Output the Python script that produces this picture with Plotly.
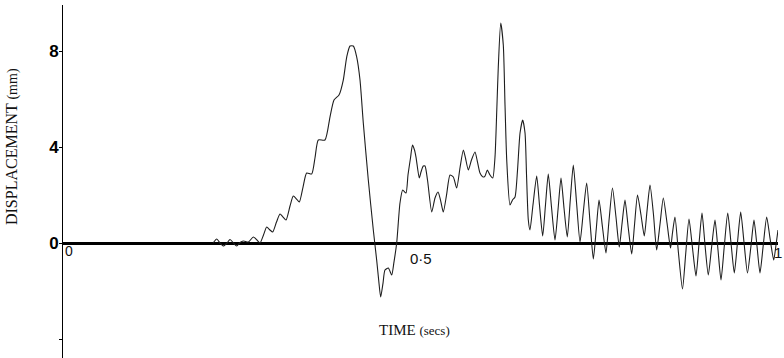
import plotly.graph_objects as go

# --- data (time in seconds, displacement in mm) ---
t_onset = [0.2098, 0.2150, 0.2196, 0.2242, 0.2294, 0.2336, 0.2385, 0.2429, 0.2476, 0.2522,
           0.2592, 0.2662, 0.2713, 0.2755]
d_onset = [0.0, 0.167, 0.0, -0.125, 0.0, 0.146, 0.0, -0.125, 0.021, 0.083,
           0.042, 0.25, 0.125, 0.0]

t_rise = [0.2804, 0.2849, 0.2895, 0.2933, 0.2986, 0.3035, 0.3077, 0.3119, 0.3175, 0.3221,
          0.3266, 0.3305, 0.3357, 0.3408, 0.3478, 0.3524, 0.3571, 0.3664, 0.3734, 0.3790,
          0.3860, 0.3920, 0.3968, 0.4014, 0.4060, 0.4108]
d_rise = [0.333, 0.667, 0.542, 0.458, 0.875, 1.208, 1.083, 0.958, 1.542, 1.958,
          1.833, 1.708, 2.333, 2.917, 2.875, 3.542, 4.292, 4.292, 5.25, 5.958,
          6.167, 6.792, 7.75, 8.208, 8.208, 7.75]

t_drop = [0.4154, 0.4200, 0.4270, 0.4340, 0.4387, 0.4415, 0.4443, 0.4476, 0.4503, 0.4550,
          0.4597, 0.4629, 0.4667, 0.4713, 0.4751, 0.4797, 0.4825, 0.4860, 0.4888, 0.4916,
          0.4937, 0.4983, 0.5007, 0.5039, 0.5063, 0.5098, 0.5157, 0.5203, 0.5245, 0.5280,
          0.5319, 0.5364, 0.5413, 0.5459, 0.5506, 0.5552, 0.5599, 0.5629, 0.5669, 0.5713,
          0.5762, 0.5797, 0.5832, 0.5874, 0.5902, 0.5934, 0.5972, 0.6010]
d_drop = [6.792, 5.0, 2.625, 0.542, -0.708, -1.542, -2.25, -1.667, -1.125, -1.042,
          -1.333, -0.792, 0.0, 1.667, 2.208, 2.083, 2.833, 3.542, 4.083, 3.875,
          3.583, 2.708, 2.958, 3.208, 3.208, 2.625, 1.292, 1.875, 2.125, 1.792,
          1.292, 2.0, 2.833, 2.75, 2.292, 3.125, 3.875, 3.542, 3.042, 3.458,
          3.792, 3.375, 2.917, 2.75, 2.792, 3.042, 2.833, 2.708]

t_spike = [0.6042, 0.6067, 0.6088, 0.6122, 0.6158, 0.6182, 0.6206, 0.6252, 0.6287, 0.6322,
           0.6357, 0.6392, 0.6429, 0.6462, 0.6483, 0.6508, 0.6531]
d_spike = [3.583, 5.542, 7.333, 9.167, 8.25, 5.75, 3.458, 1.583, 1.792, 1.917,
           3.042, 4.583, 5.125, 4.583, 2.833, 0.958, 0.542]

t_osc = [0.6573, 0.6625, 0.6664, 0.6709, 0.6748, 0.6787, 0.6832, 0.6881, 0.6923, 0.6965,
         0.7007, 0.7053, 0.7095, 0.7137, 0.7183, 0.7231, 0.7277, 0.7324, 0.7371, 0.7417,
         0.7457, 0.7497, 0.7545, 0.7594, 0.7636, 0.7685, 0.7734, 0.7780, 0.7818, 0.7860,
         0.7906, 0.7954, 0.7993, 0.8035, 0.8084, 0.8130, 0.8168, 0.8210, 0.8259, 0.8303,
         0.8350, 0.8396, 0.8448, 0.8497, 0.8524, 0.8559, 0.8608, 0.8664, 0.8709, 0.8755,
         0.8804, 0.8853, 0.8895, 0.8937, 0.8979, 0.9025, 0.9070, 0.9119, 0.9161, 0.9203,
         0.9249, 0.9297, 0.9343, 0.9389, 0.9434, 0.9478, 0.9524, 0.9573, 0.9622, 0.9664,
         0.9706, 0.9748, 0.9794, 0.9842, 0.9888, 0.9940, 0.9972, 1.0000]
d_osc = [1.583, 2.792, 1.583, 0.292, 1.583, 2.875, 1.5, 0.125, 1.375, 2.708,
         1.458, 0.25, 1.792, 3.25, 1.667, 0.042, 1.292, 2.5, 0.875, -0.667,
         0.542, 1.792, 0.667, -0.417, 0.917, 2.292, 1.083, -0.167, 0.792, 1.792,
         0.625, -0.458, 0.75, 2.0, 1.167, 0.292, 1.333, 2.417, 1.167, -0.292,
         0.792, 1.875, 0.833, -0.208, 0.417, 1.083, -0.417, -1.917, -0.458, 1.0,
         -0.208, -1.375, -0.042, 1.25, -0.083, -1.333, -0.208, 0.958, -0.292, -1.542,
         -0.125, 1.25, 0.0, -1.25, 0.042, 1.292, 0.042, -1.25, -0.125, 0.958,
         -0.125, -1.25, -0.083, 1.083, 0.208, -0.708, -0.083, 0.542]

y_ticks = [8, 4, 0, -4]
y_tick_text = ["8", "4", "0", ""]

time_s = t_onset + t_rise + t_drop + t_spike + t_osc
disp_mm = d_onset + d_rise + d_drop + d_spike + d_osc

fig = go.Figure()
fig.add_trace(go.Scatter(
    x=time_s, y=disp_mm, mode="lines",
    line=dict(color="#1e1e1e", width=1.1, shape="spline", smoothing=0.6),
    hoverinfo="skip", showlegend=False,
))

fig.update_layout(
    width=784, height=358,
    margin=dict(l=63, r=6, t=5, b=0),
    paper_bgcolor="white", plot_bgcolor="white",
    xaxis=dict(range=[0, 1.0], showgrid=False, zeroline=False, showline=False,
               showticklabels=False, ticks="", fixedrange=True),
    yaxis=dict(range=[-4.79, 9.917], showgrid=False,
               zeroline=True, zerolinecolor="black", zerolinewidth=3,
               showline=True, linecolor="black", linewidth=1,
               tickvals=y_ticks, ticktext=y_tick_text,
               ticks="outside", ticklen=3, tickwidth=1, tickcolor="black",
               ticklabelstandoff=-3,
               tickfont=dict(family="Liberation Sans", size=17, color="black", weight="bold"),
               automargin=False, fixedrange=True),
    font=dict(family="Liberation Serif", color="#111"),
)

# x tick labels
fig.add_annotation(x=0, y=0, xref="x", yref="y", text="0", showarrow=False,
                   xshift=6, yshift=-8, font=dict(family="Liberation Sans", size=14, color="#111"))
fig.add_annotation(x=0.5, y=0, xref="x", yref="y", text="0·5", showarrow=False,
                   yshift=-15, font=dict(family="Liberation Sans", size=15, color="#111"))
fig.add_annotation(x=1.0, y=0, xref="x", yref="y", text="1", showarrow=False,
                   xshift=0, yshift=-9, font=dict(family="Liberation Sans", size=15, color="#111"))

# axis titles
fig.add_annotation(x=-0.0713, y=4.0, xref="paper", yref="y", xanchor="center", yanchor="middle",
                   text="DISPLACEMENT <span style='font-size:14px'>(mm)</span>",
                   textangle=-90, showarrow=False,
                   font=dict(family="Liberation Serif", size=16, color="#111"))
fig.add_annotation(x=0.492, y=-3.63, xref="x", yref="y", xanchor="center",
                   text="TIME <span style='font-size:13px'>(secs)</span>",
                   showarrow=False,
                   font=dict(family="Liberation Serif", size=15, color="#111"))

fig.write_html("out.html", config={"displayModeBar": False},
               post_script="document.body.style.margin='0';")
